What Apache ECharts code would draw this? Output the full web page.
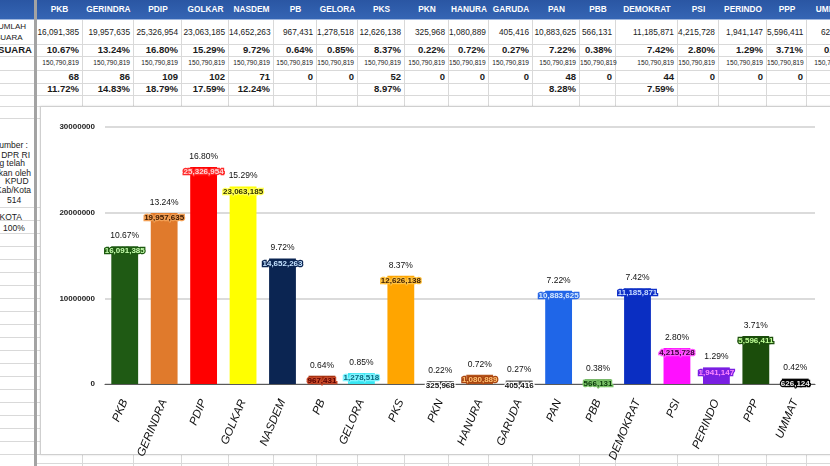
<!DOCTYPE html>
<html>
<head>
<meta charset="utf-8">
<script src="https://cdn.jsdelivr.net/npm/echarts@6/dist/echarts.min.js"></script>
<style>
  body { margin: 0; width: 830px; height: 466px; overflow: hidden; background: #fff; font-family: "Liberation Sans", Arial, sans-serif; }
  #sheet { position: absolute; left: 0; top: 0; width: 830px; height: 466px; overflow: hidden; }
  .c { position: absolute; white-space: nowrap; color: #1a1a1a; }
  .hl { position: absolute; height: 1px; background: #d9d9d9; }
  .vl { position: absolute; width: 1px; background: #d9d9d9; }
  #leftPane { position: absolute; left: 0; top: 0; width: 34px; height: 466px; overflow: hidden; }
  #split { position: absolute; left: 34px; top: 0; width: 3px; height: 466px; background: #a3a3a3; }
  #chartBox { position: absolute; left: 40px; top: 106px; width: 800px; height: 347px; background: #fff; border: 1px solid #cfcfcf; box-shadow: 0 0 2px rgba(0,0,0,0.15); }
  #chart { position: absolute; left: 0; top: 0; width: 830px; height: 466px; }
</style>
</head>
<body>
<div id="sheet"></div>
<div id="chartBox"></div>
<div id="chart"></div>
<script>
var parties = ["PKB", "GERINDRA", "PDIP", "GOLKAR", "NASDEM", "PB", "GELORA", "PKS", "PKN", "HANURA", "GARUDA", "PAN", "PBB", "DEMOKRAT", "PSI", "PERINDO", "PPP", "UMMAT"];
var votes = [16091385, 19957635, 25326954, 23063185, 14652263, 967431, 1278518, 12626138, 325968, 1080889, 405416, 10883625, 566131, 11185871, 4215728, 1941147, 5596411, 626124];
var votePct = ["10.67%", "13.24%", "16.80%", "15.29%", "9.72%", "0.64%", "0.85%", "8.37%", "0.22%", "0.72%", "0.27%", "7.22%", "0.38%", "7.42%", "2.80%", "1.29%", "3.71%", "0.42%"];
var totalVotes = 150790819;
var seats = [68, 86, 109, 102, 71, 0, 0, 52, 0, 0, 0, 48, 0, 44, 0, 0, 0, 0];
var seatPct = ["11.72%", "14.83%", "18.79%", "17.59%", "12.24%", "", "", "8.97%", "", "", "", "8.28%", "", "7.59%", "", "", "", ""];
var yTicks = [0, 10000000, 20000000, 30000000];
var sideNotes = ["Sumber :", "Hasil DPR RI", "yang telah", "ditetapkan oleh", "KPUD", "Prov/Kab/Kota", "514", "KAB/KOTA", "100%"];

// styles
var barColors = ["#1f5a14", "#e07a2c", "#ff0000", "#ffff00", "#0b2552", "#a3300f", "#38e6f2", "#ffa500", "#333333", "#b5551c", "#555555", "#1f66e8", "#62ab52", "#0a2ec2", "#ff10ff", "#7a1fe2", "#1b4d0b", "#050505"];
var labelColors = [
  ["#c8ffb0", "#1d5a10"], ["#3a1800", "#f3a055"], ["#ffd6d6", "#ff2a2a"], ["#333300", "#ffff55"],
  ["#c4e2ff", "#0b2552"], ["#5a0000", "#c84a2a"], ["#0a6a80", "#7ff4ff"], ["#3f1f00", "#ffc240"],
  ["#111111", "#ffffff"], ["#ffc070", "#a84410"], ["#111111", "#ffffff"], ["#d6ebff", "#2a68e6"],
  ["#0a3a0a", "#7cc46a"], ["#c6dcff", "#1030c8"], ["#3a003a", "#ff55ff"], ["#ff88ff", "#7a1fe2"],
  ["#c0ff98", "#1b4d0b"], ["#eeeeee", "#000000"]
];
var colEdges = [36, 83, 134, 182, 229, 274, 317, 358, 405, 449, 489, 533, 580, 616, 678, 719, 767, 807, 855];

function fmt(n) { return n.toLocaleString("en-US"); }

var sheet = document.getElementById("sheet");
var html = "";
function cell(x, y, w, h, text, css) {
  html += '<div class="c" style="left:' + x + 'px;top:' + y + 'px;width:' + w + 'px;height:' + h + 'px;line-height:' + h + 'px;' + css + '">' + text + '</div>';
}
function hline(x, y, w, col) { html += '<div class="hl" style="left:' + x + 'px;top:' + y + 'px;width:' + w + 'px;' + (col ? 'background:' + col : '') + '"></div>'; }
function vline(x, y, h) { html += '<div class="vl" style="left:' + x + 'px;top:' + y + 'px;height:' + h + 'px"></div>'; }

// header band
html += '<div style="position:absolute;left:0;top:0;width:830px;height:19px;background:linear-gradient(#2a56a3,#3565b4);"></div>';
hline(0, 19, 830, "#9fb6dd");

// grid lines
[44, 56, 70, 83, 95, 106, 118, 207].forEach(function (y) { hline(0, y, 830); });
for (var y = 220; y < 466; y += 13) hline(0, y, 830);
hline(36, 463, 800);
colEdges.forEach(function (x) { vline(x - 1, 20, 446); });

// table values
for (var i = 0; i < parties.length; i++) {
  var x = colEdges[i], w = colEdges[i + 1] - colEdges[i] - 4;
  cell(x, 0, w + 4, 19, parties[i], "text-align:center;color:#fff;font-weight:bold;font-size:8.3px;");
  cell(x, 20, w, 24, fmt(votes[i]), "text-align:right;font-size:8.3px;");
  cell(x, 44, w, 12, votePct[i], "text-align:right;font-size:9.5px;font-weight:bold;");
  cell(x, 56, w, 14, fmt(totalVotes), "text-align:right;font-size:6.6px;");
  cell(x, 70, w, 13, String(seats[i]), "text-align:right;font-size:9.5px;font-weight:bold;");
  cell(x, 83, w, 12, seatPct[i], "text-align:right;font-size:9.5px;font-weight:bold;");
}
sheet.innerHTML = html;

// left frozen column (texts cut off by the pane edge)
var lp = '<div id="leftPane"><div style="position:absolute;left:0;top:0;width:34px;height:19px;background:linear-gradient(#2a56a3,#3565b4)"></div>';
lp += '<div class="c" style="left:-6px;top:22px;font-size:8px;line-height:10px">JUMLAH</div>';
lp += '<div class="c" style="left:-5px;top:33px;font-size:8px;line-height:10px">SUARA</div>';
lp += '<div class="c" style="left:-13px;top:44px;font-size:9.5px;line-height:12px;font-weight:bold">% SUARA</div>';
var noteTops = [140, 150, 158, 168, 176, 185, 195, 212, 223];
var noteRight = [6, 4, 9, 3, null, 3, null, 12, null];
var noteLeft = [0, 0, 0, 0, 5, 0, 7, 0, 3];
for (var k = 0; k < sideNotes.length; k++) {
  var pos = noteRight[k] !== null ? "right:" + noteRight[k] + "px;" : "left:" + noteLeft[k] + "px;";
  lp += '<div class="c" style="' + pos + 'top:' + noteTops[k] + 'px;font-size:8.5px;line-height:10px">' + sideNotes[k] + '</div>';
}
lp += '</div><div id="split"></div>';
sheet.insertAdjacentHTML("beforeend", lp);

// chart
var valueData = votes.map(function (v, i) {
  return {
    value: v,
    itemStyle: { color: barColors[i] },
    label: { color: labelColors[i][0], textBorderColor: labelColors[i][1] }
  };
});

var chart = echarts.init(document.getElementById("chart"));
chart.setOption({
  animation: false,
  grid: { left: 105, right: 15, top: 127, bottom: 82 },
  xAxis: {
    type: "category",
    data: parties,
    axisLine: { lineStyle: { color: "#5a5a5a", width: 1.2 } },
    axisTick: { show: false },
    axisLabel: { interval: 0, rotate: 67, margin: 16, fontSize: 11.5, fontStyle: "italic", color: "#111", fontFamily: "Liberation Sans" }
  },
  yAxis: {
    type: "value",
    min: yTicks[0],
    max: yTicks[yTicks.length - 1],
    interval: yTicks[1] - yTicks[0],
    axisLabel: { fontSize: 8, fontWeight: "bold", color: "#222", margin: 10, fontFamily: "Liberation Sans", formatter: function (v) { return String(v); } },
    splitLine: { lineStyle: { color: "#cfcfcf", width: 1.5 } }
  },
  series: [
    {
      type: "bar",
      barWidth: "68%",
      barGap: "-100%",
      data: valueData,
      label: {
        show: true,
        position: "insideTop",
        distance: 1,
        fontSize: 8,
        fontWeight: "bold",
        fontFamily: "Liberation Sans",
        textBorderWidth: 2.5,
        formatter: function (p) { return fmt(p.value); }
      }
    },
    {
      type: "bar",
      barWidth: "68%",
      barGap: "-100%",
      silent: true,
      data: votes,
      itemStyle: { color: "rgba(0,0,0,0)" },
      label: {
        show: true,
        position: "top",
        distance: 6,
        fontSize: 8.5,
        color: "#111",
        fontFamily: "Liberation Sans",
        formatter: function (p) { return votePct[p.dataIndex]; }
      }
    }
  ]
});
</script>
</body>
</html>
